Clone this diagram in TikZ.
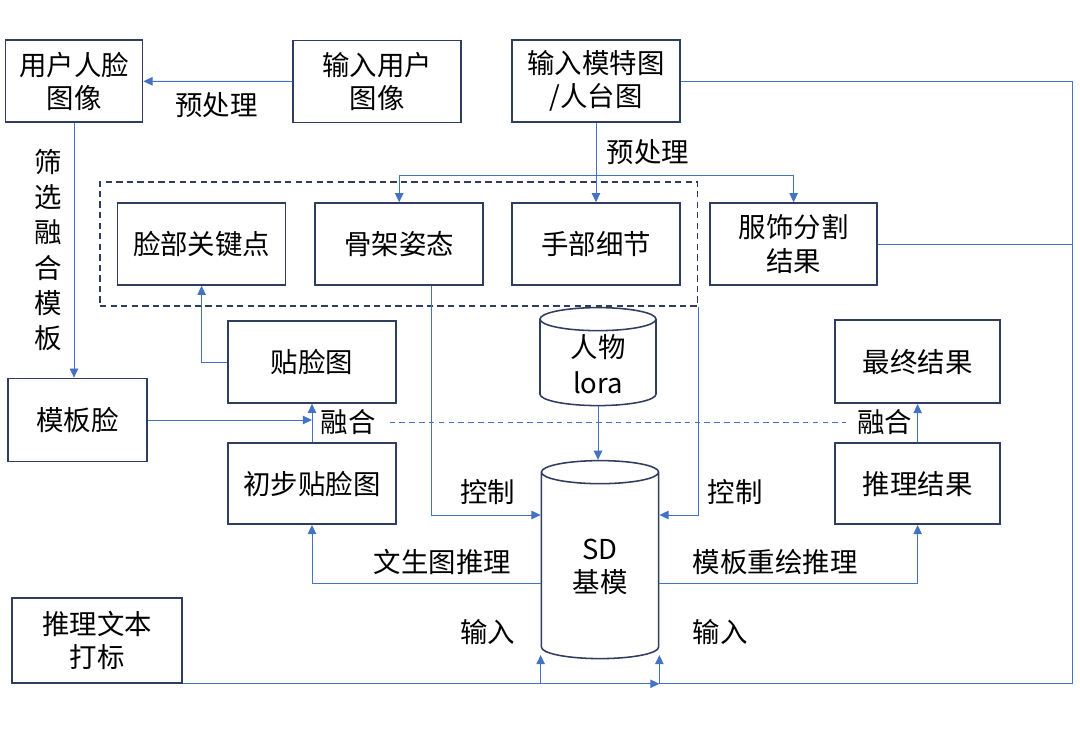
\documentclass[tikz,border=0pt]{standalone}
\usepackage{fontspec}
\setmainfont{Noto Sans CJK SC}
\definecolor{FlowNavy}{HTML}{2F3E5E}
\definecolor{FlowBlue}{HTML}{4472C4}
\usetikzlibrary{shapes.geometric, arrows.meta, positioning, calc, fit}

\begin{document}
\begin{tikzpicture}[
    box/.style={draw=FlowNavy, minimum width=4.2cm, minimum height=2.05cm, align=center, line width=1.1pt, inner sep=1pt},
    db/.style={cylinder, shape border rotate=90, aspect=0.4, draw=FlowNavy, fill=white, line width=1.1pt, align=center, inner sep=1pt},
    arr/.style={-{Triangle[length=6.5pt, width=6pt]}, line width=0.7pt, FlowBlue},
    wire/.style={line width=0.7pt, FlowBlue},
    lbl/.style={align=center, inner sep=1pt},
    font=\fontsize{19.5}{23.5}\selectfont
  ]
  \useasboundingbox (0,0) rectangle (27,-18.2);

  \node[box, minimum width=3.43cm] (face) at (1.85,-2.03) {用户人脸\\图像};
  \node[box] (userin) at (9.43,-2.04) {输入用户\\图像};
  \node[box] (modelin) at (14.9,-2.03) {输入模特图\\/人台图};
  \node[box] (keypts) at (5.04,-6.1) {脸部关键点};
  \node[box] (pose) at (9.98,-6.1) {骨架姿态};
  \node[box] (hand) at (14.9,-6.1) {手部细节};
  \node[box, minimum width=4.18cm] (cloth) at (19.84,-6.1) {服饰分割\\结果};
  \node[draw=FlowNavy, line width=1.1pt, dash pattern=on 4.5pt off 3pt, inner xsep=0.42cm, inner ysep=0.51cm, fit=(keypts)(hand)] (ctrl) {};
  \node[box] (paste) at (7.8,-9.05) {贴脸图};
  \node[box, minimum width=3.48cm, minimum height=2.08cm] (tmpl) at (1.94,-10.5) {模板脸};
  \node[box, minimum height=2.03cm] (rough) at (7.8,-12.09) {初步贴脸图};
  \node[db, minimum width=2.9cm, minimum height=2.45cm, font=\fontsize{19.5}{26}\selectfont] (lora) at (14.95,-9.1) {人物\\lora};
  \node[db, minimum width=2.93cm, minimum height=4.95cm] (sd) at (15.0,-14.175) {SD\\基模};
  \node[box, minimum width=4.13cm, minimum height=2.08cm] (final) at (22.94,-9.04) {最终结果};
  \node[box, minimum width=4.13cm, minimum height=2.03cm] (infer) at (22.94,-12.09) {推理结果};
  \node[box, minimum width=4.25cm, minimum height=2.13cm] (prompt) at (2.43,-16.01) {推理文本\\打标};

  \node[lbl] (pre1) at (5.41,-2.63) {预处理};
  \node[lbl] (pre2) at (16.2,-3.8) {预处理};
  \node[lbl, font=\fontsize{19.5}{25}\selectfont] (pick) at (1.2,-6.25) {筛\\选\\融\\合\\模\\板};
  \node[lbl] (fuseL) at (8.71,-10.55) {融合};
  \node[lbl] (fuseR) at (22.12,-10.55) {融合};
  \node[lbl] (ctlL) at (12.19,-12.3) {控制};
  \node[lbl] (ctlR) at (18.38,-12.3) {控制};
  \node[lbl] (t2i) at (11.06,-14.05) {文生图推理};
  \node[lbl] (redraw) at (19.38,-14.05) {模板重绘推理};
  \node[lbl] (inL) at (12.19,-15.8) {输入};
  \node[lbl] (inR) at (18.0,-15.8) {输入};

  \coordinate (fork) at ([yshift=-1.32cm]modelin.south);
  \coordinate (sdL) at ([yshift=-2.2cm]sd.west);
  \coordinate (sdR) at ([yshift=-2.2cm]sd.east);

  \draw[arr] (userin) -- (face);
  \draw[arr] (face.south) -- (face.south |- tmpl.north);
  \draw[arr] (modelin) -- (hand);
  \draw[arr] (fork) -| (pose.north);
  \draw[arr] (fork) -| (cloth.north);
  \draw[arr] (modelin.east) -- ++(9.78,0) coordinate (railtop) |- (sdR |- prompt.south) -- (sdR);
  \draw[wire] (cloth.east) -- (cloth.east -| railtop);
  \draw[arr] (prompt.south east) -- (sdR |- prompt.south);
  \draw[arr] (sdL |- prompt.south) -- (sdL);
  \draw[arr] (tmpl.east) -- (tmpl.east -| paste.south);
  \draw[arr] (rough) -- (paste);
  \draw[wire, dash pattern=on 4pt off 3pt, shorten <=0.3cm, shorten >=0.25cm] (fuseL.east) -- (fuseR.west);
  \draw[arr] (infer) -- (final);
  \draw[arr] (paste.west) -| (keypts.south);
  \draw[arr] ([xshift=0.8cm]pose.south) |- ([yshift=1.3cm]sd.west);
  \draw[arr] (ctrl.south east) |- ([yshift=1.3cm]sd.east);
  \draw[arr] (lora.south) -- (lora.south |- sd.north);
  \draw[arr] ([yshift=-0.4cm]sd.west) -| (rough.south);
  \draw[arr] ([yshift=-0.4cm]sd.east) -| (infer.south);
\end{tikzpicture}
\end{document}
